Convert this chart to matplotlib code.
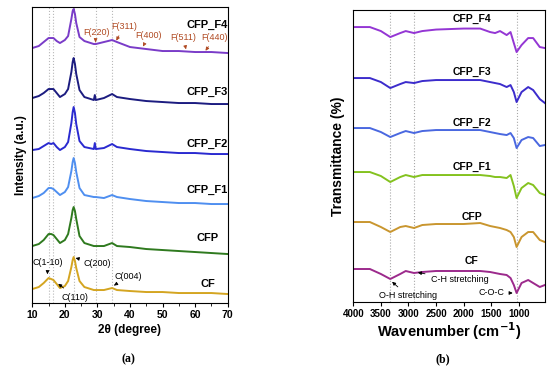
import numpy as np
import matplotlib
matplotlib.use("Agg")
import matplotlib.pyplot as plt

plt.rcParams['font.family'] = ['Liberation Sans', 'DejaVu Sans']

# ---- XRD data (stacked intensity, a.u.) ----
two_theta = [10, 12, 13.5, 15, 15.8, 16.5, 17.5, 18.5, 20, 21, 22, 22.4, 22.7, 23.1, 23.5,
             24.5, 26, 28.9, 29.2, 29.5, 32, 34.5, 36, 40, 45, 50, 55, 60, 65, 70]
xrd_cf = [14, 16, 20, 25, 24, 23, 19, 15, 17, 22, 36, 43, 46, 42, 35,
          22, 16, 13, 13, 13, 13, 15, 13, 12, 11, 11, 10, 10, 10, 9]
xrd_cfp = [57, 59, 63, 69, 69, 68, 64, 60, 63, 69, 85, 93, 96, 92, 84,
           67, 60, 57, 57, 57, 57, 60, 57, 56, 54, 53, 52, 51, 50, 49]
xrd_f1 = [105, 107, 110, 115, 115, 114, 111, 108, 111, 116, 132, 141, 145, 140, 131,
          115, 108, 106, 106, 106, 105, 108, 106, 104, 102, 101, 100, 100, 99, 99]
xrd_f2 = [153, 154, 157, 160, 159, 160, 156, 153, 156, 161, 180, 191, 196, 190, 179,
          162, 156, 154, 160, 154, 155, 159, 156, 154, 152, 151, 150, 150, 149, 149]
xrd_f3 = [205, 207, 210, 214, 214, 214, 210, 206, 209, 214, 231, 241, 245, 239, 229,
          213, 206, 203, 208, 203, 205, 209, 206, 204, 202, 201, 200, 200, 199, 199]
xrd_f4 = [255, 257, 261, 265, 265, 265, 262, 260, 263, 267, 284, 292, 294, 289, 280,
          266, 262, 259, 259, 259, 261, 263, 261, 256, 254, 252, 252, 251, 251, 250]
xrd_names = ['CF', 'CFP', 'CFP_F1', 'CFP_F2', 'CFP_F3', 'CFP_F4']
xrd_colors = ['#d4a521', '#2f7a1f', '#4f8ff0', '#2a2ad0', '#1c1c80', '#7a3cc8']
xrd_label_y = [19, 65, 113, 159, 211, 278]
xrd_lines = [15.2, 16.5, 22.7, 29.5, 34.6]

# ---- FTIR data (relative transmittance + stacking offset) ----
wavenumber = [4000, 3700, 3500, 3330, 3150, 3050, 2900, 2750, 2500, 2000, 1700, 1520,
              1430, 1340, 1220, 1150, 1090, 1040, 950, 830, 740, 620, 527]
ir_cf = [0, 0, -5, -10, -5, -2, -4, -3, -2, -2, -2, -3, -4, -5, -6, -9, -16, -24, -14, -11, -14, -18, -16]
ir_cfp = [0, 0, -5, -10, -5, -4, -6, -3, -2, -2, -1, -4, -5, -6, -8, -10, -15, -25, -15, -10, -10, -18, -20]
ir_f1 = [0, 0, -4, -10, -5, -3, -5, -3, -3, -3, -3, -4, -5, -5, -6, -3, -14, -26, -16, -11, -13, -21, -23]
ir_f2 = [0, 0, -4, -9, -5, -3, -5, -3, -2, -2, -2, -4, -5, -6, -7, -5, -10, -20, -12, -9, -10, -18, -17]
ir_f3 = [0, 0, -4, -10, -6, -4, -5, -3, -2, -2, -2, -4, -5, -6, -9, -7, -14, -24, -14, -9, -12, -21, -25]
ir_f4 = [0, 0, -4, -10, -6, -4, -6, -4, -2.5, -1.5, -1.5, -5, -6, -4, -8, -5, -16, -25, -18, -11, -11, -20, -21]
ir_offsets = [33, 80, 130, 174, 224, 275]
ir_colors = ['#9c2a8c', '#c9962f', '#84c21f', '#4a68e0', '#3c2ccc', '#9436d4']
ir_label_y = [41, 85, 135, 179, 230, 283]
ir_lines = [3330, 2900, 1030]

fig = plt.figure(figsize=(5.5, 3.7), dpi=100)

# ---------- (a) XRD ----------
ax1 = fig.add_axes([0.0587, 0.181, 0.3553, 0.80])
for xv in xrd_lines:
    ax1.axvline(xv, color='#b8b8b8', ls=':', lw=0.8, zorder=0)
for ys, c, name, ly in zip([xrd_cf, xrd_cfp, xrd_f1, xrd_f2, xrd_f3, xrd_f4],
                           xrd_colors, xrd_names, xrd_label_y):
    ax1.plot(two_theta, ys, color=c, lw=1.4)
    ax1.text(63.8, ly, name, ha='center', va='center', fontsize=8, fontweight='bold')

ax1.set_xlim(10, 70)
ax1.set_ylim(0, 296)
ax1.set_xticks(range(10, 71, 10))
ax1.set_xticks(range(15, 70, 10), minor=True)
ax1.tick_params(axis='x', which='major', direction='out', length=3, pad=2, labelsize=7.5)
ax1.tick_params(axis='x', which='minor', direction='out', length=2)
ax1.tick_params(axis='y', left=False, labelleft=False)
for lab in ax1.get_xticklabels():
    lab.set_fontweight('bold')
ax1.set_xlabel('2θ (degree)', fontsize=8.5, fontweight='bold', labelpad=3)
ax1.set_ylabel('Intensity (a.u.)', fontsize=8.5, fontweight='bold', labelpad=4)

fcol = '#b04a22'
fprops = dict(arrowstyle='-|>', color=fcol, lw=0.6, mutation_scale=5)
for txt, tx, ty, px, py in [('F(220)', 29.6, 271, 29.3, 258),
                            ('F(311)', 38.2, 277, 35.4, 260),
                            ('F(400)', 45.8, 268, 43.6, 254),
                            ('F(511)', 56.3, 266, 57.4, 251),
                            ('F(440)', 66.1, 266, 62.7, 250)]:
    ax1.annotate(txt, xy=(px, py), xytext=(tx, ty), ha='center', va='center',
                 fontsize=6.5, color=fcol, arrowprops=fprops)

cprops = dict(arrowstyle='-|>', color='black', lw=0.6, mutation_scale=5)
for txt, tx, ty, px, py in [('C(1-10)', 14.8, 41, 14.6, 26),
                            ('C(110)', 23.1, 6, 17.3, 21),
                            ('C(200)', 29.8, 40, 23.3, 45),
                            ('C(004)', 39.5, 27, 34.4, 16)]:
    ax1.annotate(txt, xy=(px, py), xytext=(tx, ty), ha='center', va='center',
                 fontsize=6.5, color='black', arrowprops=cprops)

# ---------- (b) FTIR ----------
ax2 = fig.add_axes([0.6424, 0.1838, 0.3485, 0.789])
for xv in ir_lines:
    ax2.axvline(xv, color='#a8a8a8', ls=':', lw=0.8, zorder=0)
for ys, off, c, name, ly in zip([ir_cf, ir_cfp, ir_f1, ir_f2, ir_f3, ir_f4], ir_offsets,
                                ir_colors, xrd_names, ir_label_y):
    ax2.plot(wavenumber, np.array(ys) + off, color=c, lw=1.4)
    ax2.text(1850, ly, name, ha='center', va='center', fontsize=7.5, fontweight='bold')

ax2.set_xlim(4000, 525)
ax2.set_ylim(0, 292)
ax2.set_xticks(range(4000, 999, -500))
ax2.tick_params(axis='x', direction='out', length=3, pad=2, labelsize=7)
ax2.tick_params(axis='y', left=False, labelleft=False)
for lab in ax2.get_xticklabels():
    lab.set_fontweight('bold')
ax2.set_xlabel('Wavenumber (cm$^{\\mathbf{-1}}$)', fontsize=10.5, fontweight='bold', labelpad=1)
ax2.set_ylabel('Transmittance (%)', fontsize=10, fontweight='bold', labelpad=6)

ax2.annotate('C-H stretching', xy=(2880, 30), xytext=(2600, 22), ha='left', va='center',
             fontsize=6.5, arrowprops=cprops)
ax2.annotate('O-H stretching', xy=(3335, 22), xytext=(3005, 6), ha='center', va='center',
             fontsize=6.5, arrowprops=cprops)
ax2.annotate('C-O-C', xy=(1060, 9), xytext=(1505, 9), ha='center', va='center',
             fontsize=6.5, arrowprops=cprops)

fig.text(128 / 550, 1 - 359 / 370, '(a)', ha='center', va='center',
         fontsize=8.5, fontweight='bold', family='Liberation Serif')
fig.text(443 / 550, 1 - 359 / 370, '(b)', ha='center', va='center',
         fontsize=8.5, fontweight='bold', family='Liberation Serif')

fig.savefig('out.png', dpi=100)
